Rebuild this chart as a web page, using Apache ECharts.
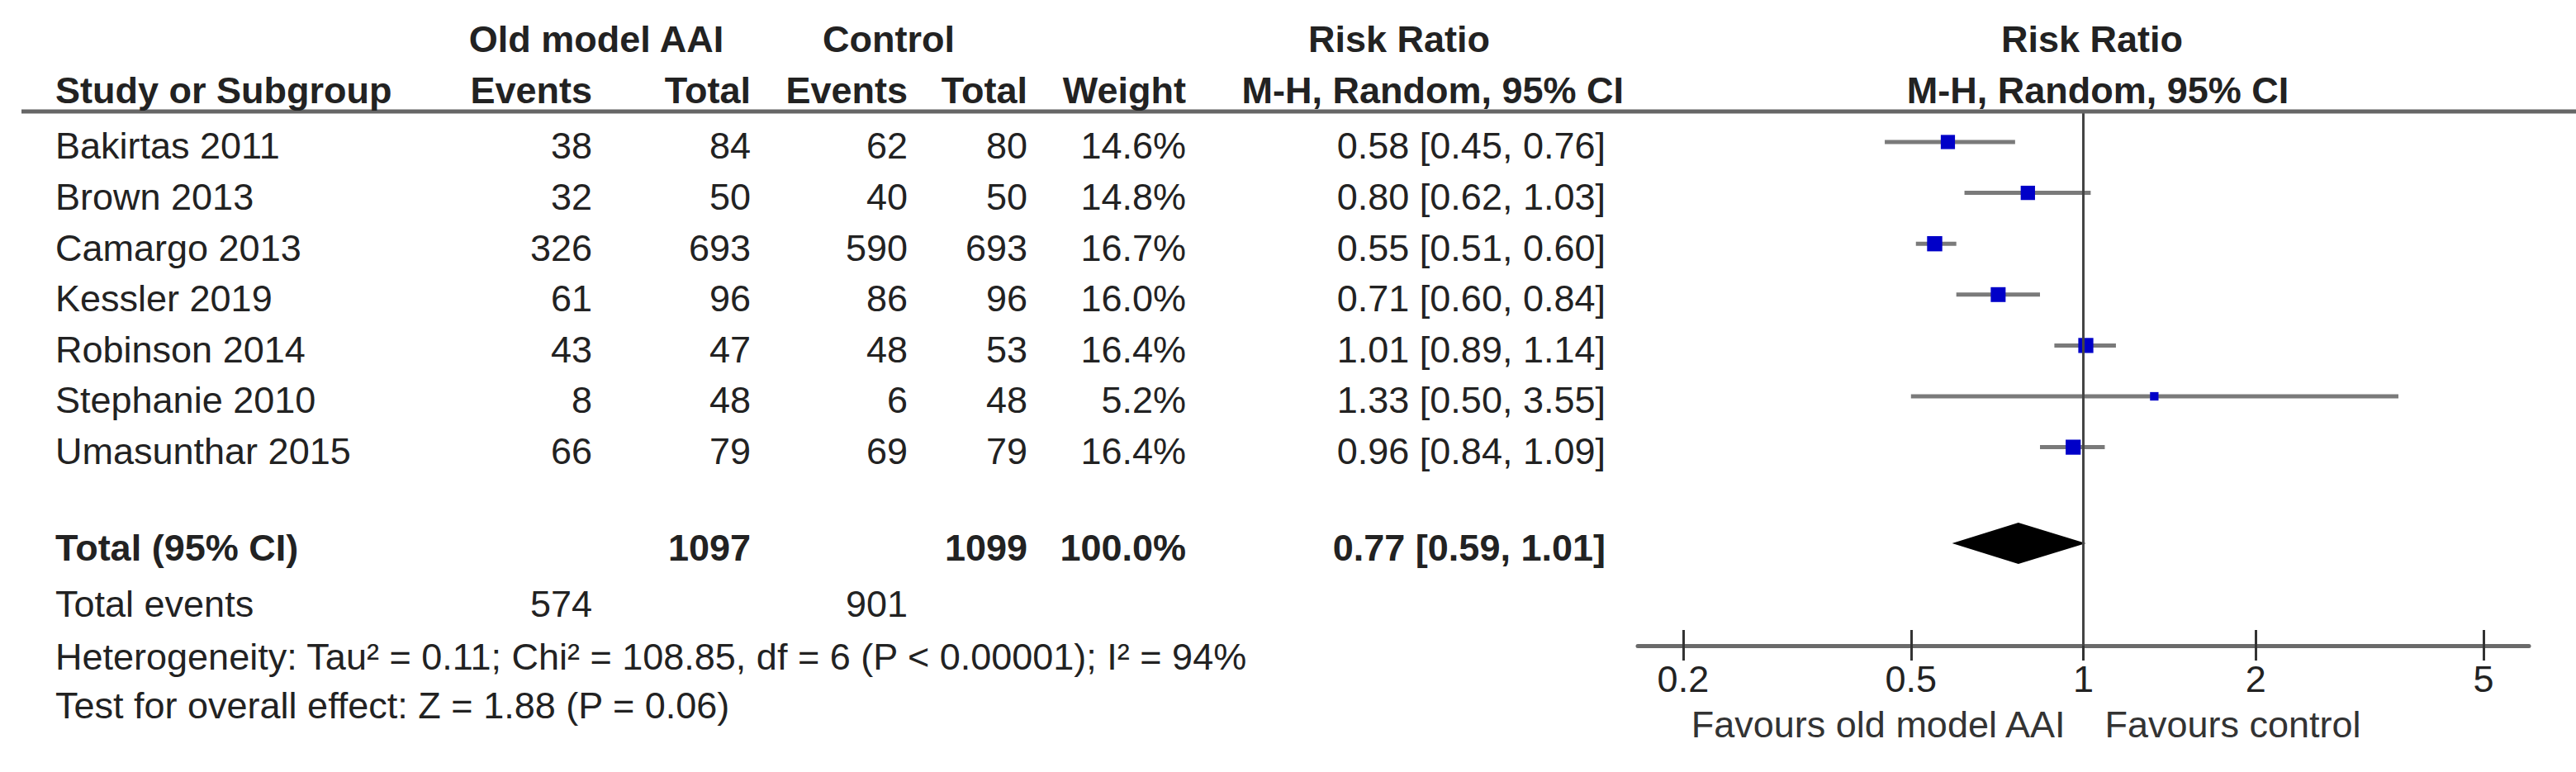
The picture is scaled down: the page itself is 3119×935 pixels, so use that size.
<!DOCTYPE html>
<html>
<head>
<meta charset="utf-8">
<script src="https://cdn.jsdelivr.net/npm/echarts@6/dist/echarts.min.js"></script>
<style>
html,body{margin:0;padding:0;background:#fff;}
#chart{width:3119px;height:935px;}
</style>
</head>
<body>
<div id="chart"></div>
<script>
// ---------------- data ----------------
const studies = ['Bakirtas 2011','Brown 2013','Camargo 2013','Kessler 2019','Robinson 2014','Stephanie 2010','Umasunthar 2015'];
const expEvents = [38, 32, 326, 61, 43, 8, 66];
const expTotal = [84, 50, 693, 96, 47, 48, 79];
const ctrlEvents = [62, 40, 590, 86, 48, 6, 69];
const ctrlTotal = [80, 50, 693, 96, 53, 48, 79];
const weights = [14.6, 14.8, 16.7, 16.0, 16.4, 5.2, 16.4];
const riskRatio = [0.58, 0.80, 0.55, 0.71, 1.01, 1.33, 0.96];
const ciLow = [0.45, 0.62, 0.51, 0.60, 0.89, 0.50, 0.84];
const ciHigh = [0.76, 1.03, 0.60, 0.84, 1.14, 3.55, 1.09];
const pooled = [0.77, 0.59, 1.01];          // RR, lower, upper
const pooledTotals = [1097, 1099];          // old model AAI, control
const pooledWeight = 100.0;
const totalEvents = [574, 901];
const tickValues = [0.2, 0.5, 1, 2, 5];
const heterogeneityText = 'Heterogeneity: Tau\u00B2 = 0.11; Chi\u00B2 = 108.85, df = 6 (P < 0.00001); I\u00B2 = 94%';
const overallText = 'Test for overall effect: Z = 1.88 (P = 0.06)';
const favoursLeft = 'Favours old model AAI';
const favoursRight = 'Favours control';

// ---------------- layout / style ----------------
const FONT = '"Liberation Sans", Arial, Helvetica, sans-serif';
const FS = 45;
const TXT = '#222';
const L = {
  gridLeft: 1983, gridTop: 135, gridWidth: 1079, gridHeight: 647,
  xMin: 1/6, xMax: 6,
  yMin: -0.6006, yMax: 9.9026,
  totalRow: 7.89,
  textDy: 5,
  studyX: 67, expEvX: 717, expTotX: 909, ctrlEvX: 1099, ctrlTotX: 1244, weightX: 1436, rrX: 1944,
  h1Y: 47, h2Y: 109,
  oldHeadX: 722, ctrlHeadX: 1076, rrHeadX: 1694, mhHeadRight: 1966,
  plotHead1X: 2533, plotHead2X: 2540,
  eventsY: 731, hetY: 795, testY: 854, favY: 877,
  favGap: 22,
  ruleLeft: 26, ruleRight: 3119, ruleWidth: 5,
  sqK: 4.5, diamondHalf: 25
};

const fmt2 = v => v.toFixed(2);
const rrText = (r, lo, hi) => fmt2(r) + ' [' + fmt2(lo) + ', ' + fmt2(hi) + ']';

const chart = echarts.init(document.getElementById('chart'), null, {renderer: 'svg'});

const baseX = {
  type: 'log', gridIndex: 0, min: L.xMin, max: L.xMax, position: 'bottom',
  splitLine: {show: false}, minorTick: {show: false}, minorSplitLine: {show: false}
};

const option = {
  backgroundColor: '#fff',
  animation: false,
  textStyle: {fontFamily: FONT},
  grid: [{left: L.gridLeft, top: L.gridTop, width: L.gridWidth, height: L.gridHeight, containLabel: false, outerBoundsMode: 'none'}],
  xAxis: [
    Object.assign({}, baseX, {
      axisLine: {show: true, onZero: false, lineStyle: {color: '#6a6a6a', width: 5}},
      axisTick: {show: true, length: 18, lineStyle: {color: '#333', width: 3}, customValues: tickValues},
      axisLabel: {show: true, fontSize: FS, color: TXT, fontFamily: FONT, margin: 18, customValues: tickValues,
                  formatter: v => String(+(+v).toFixed(4))}
    }),
    Object.assign({}, baseX, {
      axisLine: {show: false, onZero: false},
      axisTick: {show: true, inside: true, length: 19, lineStyle: {color: '#333', width: 3}, customValues: tickValues},
      axisLabel: {show: false}
    })
  ],
  yAxis: [{type: 'value', gridIndex: 0, inverse: true, min: L.yMin, max: L.yMax, show: false, splitLine: {show: false}}],
  series: [
    {
      name: 'studies', type: 'custom', xAxisIndex: 0, yAxisIndex: 0,
      data: studies.map((s, i) => [riskRatio[i], i, ciLow[i], ciHigh[i], weights[i]]),
      encode: {x: [0, 2, 3], y: 1},
      renderItem: function (params, api) {
        const y = api.value(1);
        const p = api.coord([api.value(0), y]);
        const a = api.coord([api.value(2), y]);
        const b = api.coord([api.value(3), y]);
        const s = L.sqK * Math.sqrt(api.value(4));
        return {type: 'group', children: [
          {type: 'line', shape: {x1: a[0], y1: a[1], x2: b[0], y2: b[1]}, style: {stroke: '#7a7a7a', lineWidth: 5}},
          {type: 'rect', shape: {x: p[0] - s / 2, y: p[1] - s / 2, width: s, height: s}, style: {fill: '#0000c8'}}
        ]};
      },
      markLine: {
        silent: true, symbol: 'none', label: {show: false},
        lineStyle: {color: '#444', width: 3, type: 'solid'},
        data: [{xAxis: 1}]
      },
      z: 3
    },
    {
      name: 'pooled', type: 'custom', xAxisIndex: 0, yAxisIndex: 0,
      data: [[pooled[0], L.totalRow, pooled[1], pooled[2]]],
      encode: {x: [0, 2, 3], y: 1},
      renderItem: function (params, api) {
        const y = api.value(1);
        const c = api.coord([api.value(0), y]);
        const a = api.coord([api.value(2), y]);
        const b = api.coord([api.value(3), y]);
        const h = L.diamondHalf;
        return {type: 'polygon', shape: {points: [[a[0], a[1]], [c[0], c[1] - h], [b[0], b[1]], [c[0], c[1] + h]]},
                style: {fill: '#000'}};
      },
      z: 4
    }
  ]
};
chart.setOption(option);

// ---------------- table text ----------------
function txt(text, x, y, align, bold, color) {
  return {
    type: 'text', silent: true, z: 10,
    style: {
      text: text, x: x, y: y,
      align: align, textAlign: align,
      verticalAlign: 'middle', textVerticalAlign: 'middle',
      font: (bold ? 'bold ' : '') + FS + 'px ' + FONT,
      fill: color || TXT
    }
  };
}
const rowY = i => chart.convertToPixel({yAxisIndex: 0}, i) + L.textDy;
const oneX = chart.convertToPixel({xAxisIndex: 0}, 1);
const els = [];
// header rule
els.push({type: 'line', silent: true, z: 9, shape: {x1: L.ruleLeft, y1: L.gridTop, x2: L.ruleRight, y2: L.gridTop},
          style: {stroke: '#666', lineWidth: L.ruleWidth}});
// headers
els.push(txt('Old model AAI', L.oldHeadX, L.h1Y, 'center', true));
els.push(txt('Control', L.ctrlHeadX, L.h1Y, 'center', true));
els.push(txt('Risk Ratio', L.rrHeadX, L.h1Y, 'center', true));
els.push(txt('Risk Ratio', L.plotHead1X, L.h1Y, 'center', true));
els.push(txt('Study or Subgroup', L.studyX, L.h2Y, 'left', true));
els.push(txt('Events', L.expEvX, L.h2Y, 'right', true));
els.push(txt('Total', L.expTotX, L.h2Y, 'right', true));
els.push(txt('Events', L.ctrlEvX, L.h2Y, 'right', true));
els.push(txt('Total', L.ctrlTotX, L.h2Y, 'right', true));
els.push(txt('Weight', L.weightX, L.h2Y, 'right', true));
els.push(txt('M-H, Random, 95% CI', L.mhHeadRight, L.h2Y, 'right', true));
els.push(txt('M-H, Random, 95% CI', L.plotHead2X, L.h2Y, 'center', true));
// study rows
studies.forEach((s, i) => {
  const y = rowY(i);
  els.push(txt(s, L.studyX, y, 'left', false));
  els.push(txt(String(expEvents[i]), L.expEvX, y, 'right', false));
  els.push(txt(String(expTotal[i]), L.expTotX, y, 'right', false));
  els.push(txt(String(ctrlEvents[i]), L.ctrlEvX, y, 'right', false));
  els.push(txt(String(ctrlTotal[i]), L.ctrlTotX, y, 'right', false));
  els.push(txt(weights[i].toFixed(1) + '%', L.weightX, y, 'right', false));
  els.push(txt(rrText(riskRatio[i], ciLow[i], ciHigh[i]), L.rrX, y, 'right', false));
});
// total row
const ty = rowY(L.totalRow);
els.push(txt('Total (95% CI)', L.studyX, ty, 'left', true));
els.push(txt(String(pooledTotals[0]), L.expTotX, ty, 'right', true));
els.push(txt(String(pooledTotals[1]), L.ctrlTotX, ty, 'right', true));
els.push(txt(pooledWeight.toFixed(1) + '%', L.weightX, ty, 'right', true));
els.push(txt(rrText(pooled[0], pooled[1], pooled[2]), L.rrX, ty, 'right', true));
// footers
els.push(txt('Total events', L.studyX, L.eventsY, 'left', false));
els.push(txt(String(totalEvents[0]), L.expEvX, L.eventsY, 'right', false));
els.push(txt(String(totalEvents[1]), L.ctrlEvX, L.eventsY, 'right', false));
els.push(txt(heterogeneityText, L.studyX, L.hetY, 'left', false));
els.push(txt(overallText, L.studyX, L.testY, 'left', false));
// favours
els.push(txt(favoursLeft, oneX - L.favGap, L.favY, 'right', false, '#333'));
els.push(txt(favoursRight, oneX + L.favGap + 4, L.favY, 'left', false, '#333'));

chart.setOption({graphic: {elements: els}});
</script>
</body>
</html>
